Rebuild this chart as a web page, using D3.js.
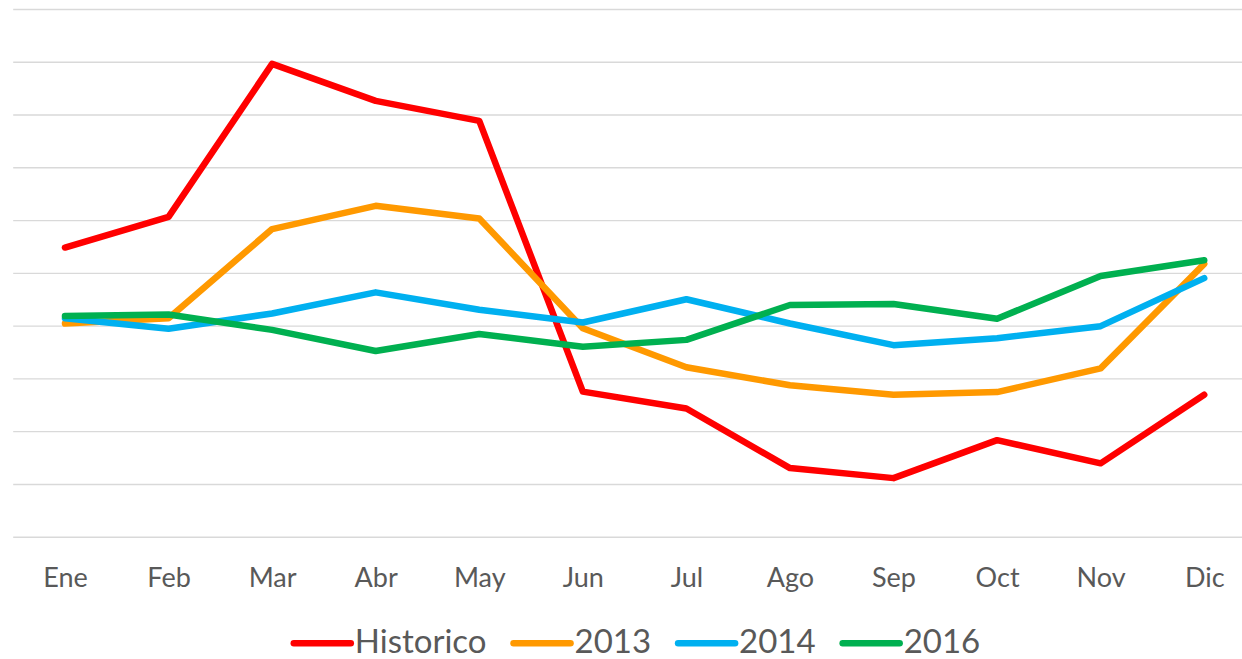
<!DOCTYPE html>
<html>
<head>
<meta charset="utf-8">
<script src="https://cdn.jsdelivr.net/npm/d3@7/dist/d3.min.js"></script>
<style>
  html, body { margin: 0; padding: 0; background: #fff; }
  svg { display: block; }
  text { font-family: Lato, "Liberation Sans", sans-serif; fill: #595959; }
</style>
</head>
<body>
<svg id="chart" width="1242" height="659"></svg>
<script>
const months = ["Ene","Feb","Mar","Abr","May","Jun","Jul","Ago","Sep","Oct","Nov","Dic"];
const seriesNames = ["Historico","2013","2014","2016"];
const historico = [5.48, 6.06, 8.96, 8.26, 7.88, 2.75, 2.43, 1.30, 1.11, 1.83, 1.39, 2.69];
const y2013     = [4.04, 4.14, 5.83, 6.27, 6.03, 3.95, 3.21, 2.87, 2.69, 2.74, 3.19, 5.17];
const y2014     = [4.14, 3.94, 4.23, 4.63, 4.30, 4.06, 4.50, 4.04, 3.63, 3.76, 3.99, 4.90];
const y2016     = [4.18, 4.21, 3.92, 3.52, 3.84, 3.60, 3.73, 4.39, 4.41, 4.13, 4.94, 5.24];
const colors    = ["#FF0000", "#FF9900", "#00B0F0", "#00B050"];
const yTicks    = [0,1,2,3,4,5,6,7,8,9,10];

const series = [historico, y2013, y2014, y2016].map((v, i) => ({ name: seriesNames[i], values: v, color: colors[i] }));

const svg = d3.select("#chart");
const plotLeft = 13.2, plotRight = 1256, plotTop = 9, plotBottom = 536.7;

const x = d3.scalePoint().domain(months).range([plotLeft, plotRight]).padding(0.5);
const y = d3.scaleLinear().domain([0, 10]).range([plotBottom, plotTop]);

// gridlines
const grid = svg.append("g")
  .attr("transform", `translate(${plotLeft},0)`)
  .call(d3.axisLeft(y).tickValues(yTicks).tickSize(-(plotRight - plotLeft)).tickFormat(""));
grid.select(".domain").remove();
grid.selectAll(".tick line").attr("stroke", "#d9d9d9").attr("stroke-width", 1.4);

// x axis labels
const xAxis = svg.append("g")
  .attr("transform", `translate(0,${plotBottom})`)
  .call(d3.axisBottom(x).tickSize(0).tickPadding(0));
xAxis.select(".domain").remove();
xAxis.selectAll(".tick text")
  .attr("dy", null)
  .attr("y", 50)
  .style("font-size", "27px")
  .style("fill", "#595959");

// lines
const line = d3.line().x((d, i) => x(months[i])).y(d => y(d));
svg.append("g").selectAll("path")
  .data(series)
  .join("path")
  .attr("d", d => line(d.values))
  .attr("fill", "none")
  .attr("stroke", d => d.color)
  .attr("stroke-width", 6.5)
  .attr("stroke-linejoin", "round")
  .attr("stroke-linecap", "round");

// legend
const legend = svg.append("g");
const sampleLen = 57, textGap = 4, itemGap = 27;
const items = legend.selectAll("g").data(series).join("g");
items.append("line")
  .attr("x1", 0).attr("x2", sampleLen)
  .attr("y1", 0).attr("y2", 0)
  .attr("stroke", d => d.color)
  .attr("stroke-width", 6.5)
  .attr("stroke-linecap", "round");
items.append("text")
  .attr("x", sampleLen + textGap)
  .attr("y", 10)
  .style("font-size", "33px")
  .text(d => d.name);
const widths = [];
items.each(function() {
  const w = sampleLen + textGap + d3.select(this).select("text").node().getComputedTextLength();
  widths.push(w);
});
const total = d3.sum(widths) + itemGap * (widths.length - 1);
let start = 637 - total / 2;
items.attr("transform", (d, i) => {
  const t = `translate(${start},643.3)`;
  start += widths[i] + itemGap;
  return t;
});
</script>
</body>
</html>
